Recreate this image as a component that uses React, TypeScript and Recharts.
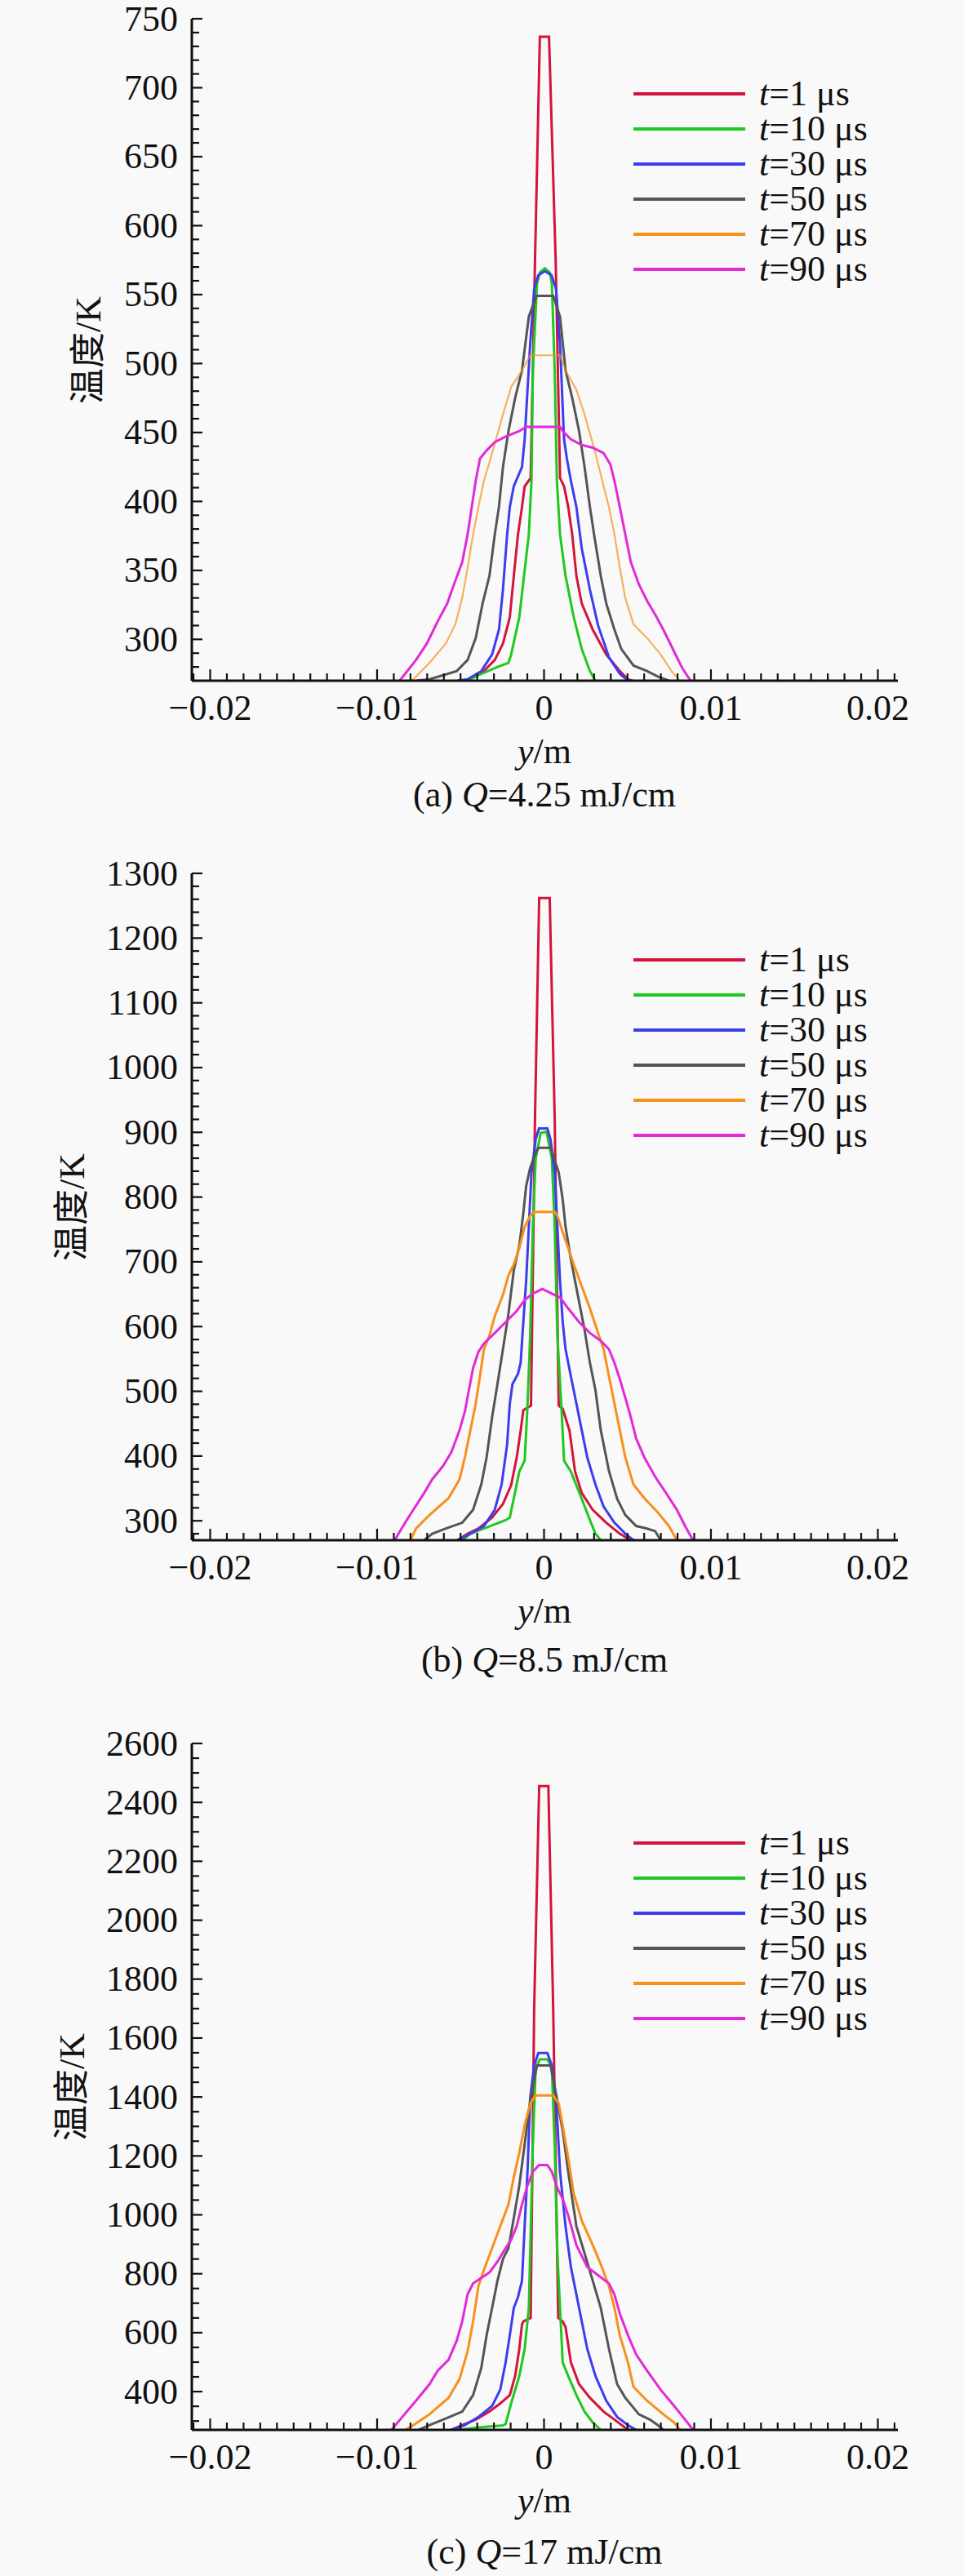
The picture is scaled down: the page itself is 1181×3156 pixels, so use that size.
import React from "react";
import { LineChart, Line, XAxis, YAxis, Legend } from "recharts";

type Pt = [number, number];

const SERIF = '"Liberation Serif", "Times New Roman", serif';
const CJK = '"Liberation Serif", "Noto Sans CJK SC", serif';

// legend entries (t in μs) and their line colours
const times = [1, 10, 30, 50, 70, 90];
const colors = ["#d3143c", "#1fc81f", "#3c3cf0", "#555555", "#f8901c", "#e32ad8"];

// tick labels
const xLabels = [-0.02, -0.01, 0, 0.01, 0.02];
const aYLabels = [300, 350, 400, 450, 500, 550, 600, 650, 700, 750];
const bYLabels = [300, 400, 500, 600, 700, 800, 900, 1000, 1100, 1200, 1300];
const cYLabels = [400, 600, 800, 1000, 1200, 1400, 1600, 1800, 2000, 2200, 2400, 2600];

// profiles: [y in mm, temperature K]
// (a) Q = 4.25 mJ/cm
const aT1: Pt[] = [[-4.8, 270], [-4.4, 271], [-3.6, 277], [-2.95, 285], [-2.46, 297], [-2.05, 316], [-1.81, 346], [-1.56, 376], [-1.32, 396], [-1.16, 411], [-0.8, 417], [-0.54, 574], [-0.25, 737], [0.3, 737], [0.7, 574], [0.96, 417], [1.2, 411], [1.45, 396], [1.69, 376], [1.94, 346], [2.26, 326], [2.92, 307], [3.73, 289], [4.54, 277], [5.03, 271], [5.3, 270]];
const aT10: Pt[] = [[-4.58, 270], [-3.93, 274], [-2.79, 280], [-2.13, 283], [-1.97, 289], [-1.48, 316], [-1.16, 350], [-0.91, 376], [-0.75, 415], [-0.67, 495], [-0.42, 558], [-0.25, 566], [0.05, 569], [0.35, 566], [0.47, 558], [0.64, 495], [0.77, 415], [0.96, 376], [1.29, 346], [1.78, 316], [2.26, 293], [2.75, 277], [3.08, 270]];
const aT30: Pt[] = [[-5.2, 270], [-4.58, 271], [-3.76, 277], [-3.11, 289], [-2.7, 307], [-2.46, 336], [-2.21, 376], [-2.05, 396], [-1.81, 411], [-1.32, 425], [-1.16, 445], [-0.83, 514], [-0.59, 554], [-0.34, 564], [0.05, 567], [0.45, 564], [0.72, 554], [0.96, 514], [1.2, 445], [1.37, 431], [1.61, 415], [1.94, 396], [2.26, 366], [2.75, 336], [3.24, 310], [3.89, 287], [4.54, 275], [5.03, 270]];
const aT50: Pt[] = [[-7.67, 270], [-6.86, 271], [-6.04, 274], [-5.23, 277], [-4.58, 285], [-4.09, 301], [-3.68, 326], [-3.27, 346], [-2.95, 376], [-2.7, 396], [-2.46, 425], [-2.13, 451], [-1.73, 475], [-1.32, 495], [-0.91, 534], [-0.45, 549], [0.55, 549], [0.96, 534], [1.29, 495], [1.69, 475], [2.1, 451], [2.43, 425], [2.75, 396], [3.0, 376], [3.4, 346], [3.73, 326], [4.22, 307], [4.63, 293], [5.36, 281], [6.17, 277], [6.82, 273], [7.48, 270]];
const aT70: Pt[] = [[-8.16, 270], [-7.83, 271], [-6.86, 283], [-5.88, 297], [-5.31, 311], [-4.9, 330], [-4.58, 352], [-4.25, 376], [-3.93, 396], [-3.6, 415], [-3.11, 435], [-2.46, 463], [-1.97, 483], [-1.32, 495], [-0.83, 506], [0.96, 506], [1.29, 495], [1.94, 481], [2.43, 463], [3.08, 435], [3.49, 415], [3.89, 396], [4.22, 376], [4.54, 352], [4.87, 330], [5.36, 311], [6.17, 301], [6.99, 289], [7.64, 277], [8.13, 270]];
const aT90: Pt[] = [[-8.65, 270], [-8.32, 275], [-7.67, 285], [-7.02, 297], [-6.37, 313], [-5.8, 326], [-5.39, 340], [-4.9, 356], [-4.58, 376], [-4.33, 396], [-4.09, 415], [-3.84, 431], [-3.44, 437], [-2.95, 443], [-2.3, 447], [-1.48, 451], [-1.07, 454], [0.96, 454], [1.12, 451], [1.61, 445], [2.26, 441], [2.92, 439], [3.57, 435], [3.97, 427], [4.22, 415], [4.54, 396], [4.87, 376], [5.2, 356], [5.68, 340], [6.17, 328], [6.66, 318], [7.15, 307], [7.8, 291], [8.29, 279], [8.78, 270]];

// (b) Q = 8.5 mJ/cm
const bT1: Pt[] = [[-5.2, 270], [-4.58, 280], [-3.93, 288], [-3.11, 305], [-2.46, 326], [-1.97, 355], [-1.64, 397], [-1.4, 439], [-1.24, 471], [-0.78, 478], [-0.54, 922], [-0.29, 1262], [0.34, 1262], [0.64, 922], [0.88, 478], [1.12, 473], [1.53, 439], [1.86, 376], [2.26, 343], [2.92, 317], [3.73, 297], [4.54, 280], [5.2, 270]];
const bT10: Pt[] = [[-4.9, 270], [-4.41, 280], [-3.6, 288], [-2.3, 301], [-2.05, 305], [-1.48, 376], [-1.16, 393], [-0.99, 477], [-0.83, 586], [-0.67, 754], [-0.5, 859], [-0.2, 899], [0.15, 901], [0.47, 859], [0.64, 754], [0.8, 586], [1.04, 477], [1.2, 393], [1.61, 376], [2.26, 334], [2.75, 301], [3.08, 280], [3.4, 270]];
const bT30: Pt[] = [[-5.2, 270], [-4.41, 280], [-3.6, 292], [-2.95, 317], [-2.54, 356], [-2.21, 418], [-2.05, 481], [-1.89, 511], [-1.56, 527], [-1.4, 544], [-1.24, 607], [-1.07, 670], [-0.91, 754], [-0.75, 838], [-0.5, 889], [-0.3, 906], [0.2, 906], [0.39, 889], [0.64, 838], [0.8, 754], [0.96, 670], [1.12, 607], [1.29, 565], [1.61, 523], [1.94, 481], [2.26, 440], [2.59, 398], [3.08, 356], [3.57, 322], [4.22, 297], [4.87, 280], [5.36, 270]];
const bT50: Pt[] = [[-7.18, 270], [-6.7, 280], [-5.88, 288], [-4.9, 297], [-4.25, 317], [-3.76, 356], [-3.44, 398], [-3.11, 460], [-2.79, 511], [-2.46, 565], [-2.13, 620], [-1.81, 687], [-1.48, 725], [-1.24, 775], [-1.07, 817], [-0.83, 845], [-0.5, 868], [-0.34, 876], [0.4, 876], [0.5, 868], [0.88, 838], [1.12, 796], [1.29, 754], [1.61, 704], [2.02, 649], [2.43, 595], [2.75, 544], [3.08, 502], [3.4, 440], [3.89, 377], [4.38, 334], [4.87, 309], [5.52, 292], [6.17, 288], [6.66, 284], [6.99, 270]];
const bT70: Pt[] = [[-8.0, 270], [-7.67, 288], [-6.86, 309], [-5.72, 335], [-5.06, 364], [-4.74, 398], [-4.41, 440], [-4.09, 481], [-3.84, 523], [-3.6, 565], [-3.27, 586], [-2.95, 616], [-2.46, 649], [-2.13, 679], [-1.81, 696], [-1.48, 721], [-1.16, 754], [-0.83, 771], [-0.6, 777], [0.65, 777], [0.8, 771], [1.12, 746], [1.45, 721], [1.78, 696], [2.26, 662], [2.75, 628], [3.24, 590], [3.57, 565], [3.89, 523], [4.22, 481], [4.54, 440], [4.87, 398], [5.36, 356], [6.01, 335], [6.82, 313], [7.48, 292], [7.96, 270]];
const bT90: Pt[] = [[-8.95, 270], [-8.81, 276], [-8.32, 297], [-7.83, 317], [-7.18, 343], [-6.7, 364], [-6.04, 385], [-5.55, 406], [-5.06, 440], [-4.74, 469], [-4.5, 502], [-4.25, 536], [-3.93, 561], [-3.6, 574], [-2.95, 590], [-2.3, 607], [-1.64, 624], [-1.16, 641], [-0.67, 651], [-0.1, 658], [0.47, 651], [0.96, 645], [1.45, 628], [2.1, 607], [2.75, 590], [3.4, 578], [3.89, 565], [4.22, 544], [4.54, 519], [4.87, 490], [5.2, 460], [5.52, 427], [6.01, 398], [6.66, 368], [7.31, 343], [7.96, 317], [8.45, 292], [8.86, 273], [8.95, 270]];

// (c) Q = 17 mJ/cm
const cT1: Pt[] = [[-5.55, 270], [-4.9, 286], [-4.09, 305], [-3.27, 332], [-2.62, 360], [-2.05, 388], [-1.73, 453], [-1.48, 545], [-1.32, 628], [-1.24, 638], [-0.8, 650], [-0.59, 1701], [-0.29, 2455], [0.26, 2455], [0.55, 1701], [0.85, 650], [1.12, 638], [1.29, 619], [1.61, 499], [2.1, 425], [2.75, 379], [3.57, 332], [4.22, 305], [4.87, 277], [5.1, 270]];
const cT10: Pt[] = [[-5.2, 270], [-3.93, 278], [-2.46, 285], [-2.3, 290], [-1.97, 360], [-1.48, 453], [-1.16, 545], [-0.91, 684], [-0.83, 869], [-0.67, 1239], [-0.5, 1498], [-0.25, 1528], [0.2, 1528], [0.47, 1498], [0.64, 1239], [0.8, 869], [0.96, 684], [1.12, 499], [1.45, 453], [1.94, 388], [2.43, 332], [2.92, 295], [3.4, 270]];
const cT30: Pt[] = [[-5.55, 270], [-4.74, 286], [-3.93, 314], [-3.11, 351], [-2.62, 407], [-2.3, 499], [-2.05, 591], [-1.81, 684], [-1.56, 721], [-1.32, 776], [-1.16, 961], [-0.99, 1146], [-0.83, 1396], [-0.59, 1507], [-0.34, 1549], [0.2, 1549], [0.47, 1507], [0.72, 1396], [0.96, 1146], [1.29, 961], [1.61, 823], [2.1, 684], [2.59, 545], [3.08, 453], [3.73, 369], [4.38, 314], [5.03, 286], [5.52, 270]];
const cT50: Pt[] = [[-7.51, 270], [-6.86, 286], [-6.04, 305], [-4.9, 332], [-4.25, 388], [-3.76, 480], [-3.44, 591], [-3.11, 684], [-2.79, 776], [-2.46, 850], [-2.13, 887], [-1.81, 989], [-1.48, 1100], [-1.16, 1239], [-0.83, 1387], [-0.42, 1507], [0.39, 1507], [0.8, 1387], [1.12, 1285], [1.45, 1146], [1.94, 961], [2.43, 869], [2.92, 776], [3.4, 684], [3.89, 545], [4.38, 425], [4.87, 379], [5.68, 323], [6.34, 305], [6.82, 286], [7.15, 270]];
const cT70: Pt[] = [[-8.32, 270], [-7.83, 286], [-6.86, 323], [-5.72, 379], [-5.06, 443], [-4.58, 536], [-4.25, 638], [-3.93, 758], [-3.6, 813], [-3.11, 887], [-2.62, 961], [-2.13, 1035], [-1.81, 1128], [-1.48, 1211], [-1.16, 1303], [-0.83, 1378], [-0.5, 1405], [0.55, 1405], [0.88, 1378], [1.12, 1303], [1.45, 1193], [1.78, 1072], [2.26, 980], [2.92, 897], [3.4, 832], [3.89, 758], [4.22, 684], [4.54, 591], [5.03, 499], [5.36, 416], [6.17, 369], [7.15, 323], [7.8, 295], [8.13, 270]];
const cT90: Pt[] = [[-9.14, 270], [-8.49, 314], [-7.67, 369], [-6.86, 425], [-6.37, 471], [-5.72, 508], [-5.23, 573], [-4.9, 638], [-4.58, 730], [-4.25, 767], [-3.76, 786], [-3.27, 804], [-2.79, 841], [-2.3, 887], [-1.97, 915], [-1.64, 961], [-1.32, 1035], [-0.99, 1100], [-0.67, 1146], [-0.3, 1169], [0.2, 1169], [0.47, 1146], [0.8, 1091], [1.12, 1054], [1.45, 998], [1.94, 897], [2.59, 823], [3.24, 795], [3.89, 767], [4.22, 730], [4.54, 665], [5.03, 591], [5.52, 526], [6.17, 471], [6.99, 406], [7.8, 351], [8.45, 305], [8.94, 270]];

const toRows = (pts: Pt[]) => pts.map(([mm, T]) => ({ y: mm / 1000, T }));

// every 1 mm, labelled every 10 mm
const xTicks = Array.from({ length: 43 }, (_, i) => (i - 21) / 1000);

const fmtX = (v: number) => {
  if (Math.abs(v) < 1e-9) return "0";
  return (v < 0 ? "\u2212" : "") + Math.abs(v).toFixed(2);
};

const tickText: React.CSSProperties = { fontFamily: SERIF, fontSize: 44 };

const renderXTick = (props: any) => {
  const { x, y, payload } = props;
  const v = payload.value as number;
  const major = xLabels.some((l) => Math.abs(l - v) < 1e-9);
  return (
    <g>
      <line x1={x} x2={x} y1={y} y2={y - (major ? 14 : 9)} stroke="#111" strokeWidth={2.2} />
      {major && (
        <text x={x} y={y + 33} textAnchor="middle" dominantBaseline="central" fontFamily={SERIF} style={tickText} fill="#111">
          {fmtX(v)}
        </text>
      )}
    </g>
  );
};

const makeYTick = (labels: number[]) => (props: any) => {
  const { x, y, payload } = props;
  const major = labels.includes(payload.value);
  return (
    <g>
      <line x1={x} x2={x + (major ? 13 : 9)} y1={y} y2={y} stroke="#111" strokeWidth={2.2} />
      {major && (
        <text x={x - 17} y={y} textAnchor="end" dominantBaseline="central" fontFamily={SERIF} style={tickText} fill="#111">
          {payload.value}
        </text>
      )}
    </g>
  );
};

const LegendBox = () => (
  <div style={{ fontFamily: SERIF, fontSize: 44, color: "#111" }}>
    {times.map((t, i) => (
      <div key={t} style={{ display: "flex", alignItems: "center", height: 43 }}>
        <div style={{ width: 137, height: 4, background: colors[i], marginRight: 17 }} />
        <span style={{ whiteSpace: "nowrap", lineHeight: "43px" }}>
          <i>t</i>={t} μs
        </span>
      </div>
    ))}
  </div>
);

const panels = [
  {
    tag: "(a) ", q: "4.25", series: [aT1, aT10, aT30, aT50, aT70, aT90], faded: 70,
    yTop: 750, yLabels: aYLabels, yMinor: 10, yMinorFrom: 280,
    top: 0, marginTop: 23, plotH: 811, legendTop: 93, yLabelX: 109, axisTitleY: 921, captionY: 974,
  },
  {
    tag: "(b) ", q: "8.5", series: [bT1, bT10, bT30, bT50, bT70, bT90], faded: -1,
    yTop: 1300, yLabels: bYLabels, yMinor: 20, yMinorFrom: 280,
    top: 1040, marginTop: 30, plotH: 817, legendTop: 114, yLabelX: 89, axisTitleY: 1974, captionY: 2034,
  },
  {
    tag: "(c) ", q: "17", series: [cT1, cT10, cT30, cT50, cT70, cT90], faded: -1,
    yTop: 2600, yLabels: cYLabels, yMinor: 50, yMinorFrom: 300,
    top: 2100, marginTop: 36, plotH: 841, legendTop: 136, yLabelX: 89, axisTitleY: 3064, captionY: 3127,
  },
];

const X_AXIS_H = 60;

export default function App() {
  return (
    <div style={{ position: "absolute", left: 0, top: 0, width: 1181, height: 3156, background: "#f9f9f9", overflow: "hidden" }}>
      {panels.map((p) => {
        const height = p.marginTop + p.plotH + X_AXIS_H;
        const yTicks = Array.from(
          { length: Math.round((p.yTop - p.yMinorFrom) / p.yMinor) + 1 },
          (_, i) => p.yMinorFrom + i * p.yMinor
        );
        const plotCenter = p.top + p.marginTop + p.plotH / 2;
        return (
          <React.Fragment key={p.tag}>
            <div style={{ position: "absolute", left: 0, top: p.top }}>
              <LineChart width={1181} height={height} margin={{ top: p.marginTop, right: 81, bottom: 0, left: 0 }}>
                <XAxis
                  type="number"
                  dataKey="y"
                  domain={[-0.0211, 0.0212]}
                  allowDataOverflow
                  ticks={xTicks}
                  interval={0}
                  tickSize={0}
                  tickMargin={0}
                  tickLine={false}
                  tick={renderXTick}
                  axisLine={{ stroke: "#111", strokeWidth: 3 }}
                  height={X_AXIS_H}
                />
                <YAxis
                  type="number"
                  domain={[270, p.yTop]}
                  allowDataOverflow
                  ticks={yTicks}
                  interval={0}
                  tickSize={0}
                  tickMargin={0}
                  tickLine={false}
                  tick={makeYTick(p.yLabels)}
                  axisLine={{ stroke: "#111", strokeWidth: 3 }}
                  width={235}
                />
                <Legend
                  layout="vertical"
                  align="center"
                  verticalAlign="middle"
                  wrapperStyle={{ left: 776, top: p.legendTop, width: 360 }}
                  content={() => <LegendBox />}
                />
                {p.series.map((s, i) => (
                  <Line
                    key={times[i]}
                    name={`t=${times[i]} μs`}
                    data={toRows(s)}
                    dataKey="T"
                    type="linear"
                    stroke={colors[i]}
                    strokeWidth={times[i] === p.faded ? 2.2 : 3}
                    strokeOpacity={times[i] === p.faded ? 0.7 : 1}
                    dot={false}
                    activeDot={false}
                    isAnimationActive={false}
                  />
                ))}
              </LineChart>
            </div>
            <div
              style={{
                position: "absolute", left: p.yLabelX - 120, top: plotCenter - 25, width: 240, height: 50,
                lineHeight: "50px", textAlign: "center", transform: "rotate(-90deg)",
                fontFamily: CJK, fontSize: 44, color: "#111", whiteSpace: "nowrap",
              }}
            >
              温度/K
            </div>
            <div
              style={{
                position: "absolute", left: 367, width: 600, top: p.axisTitleY - 25, height: 50, lineHeight: "50px",
                textAlign: "center", fontFamily: SERIF, fontSize: 44, color: "#111",
              }}
            >
              <i>y</i>/m
            </div>
            <div
              style={{
                position: "absolute", left: 367, width: 600, top: p.captionY - 25, height: 50, lineHeight: "50px",
                textAlign: "center", fontFamily: SERIF, fontSize: 44, color: "#111", whiteSpace: "nowrap",
              }}
            >
              {p.tag}<i>Q</i>={p.q} mJ/cm
            </div>
          </React.Fragment>
        );
      })}
    </div>
  );
}
